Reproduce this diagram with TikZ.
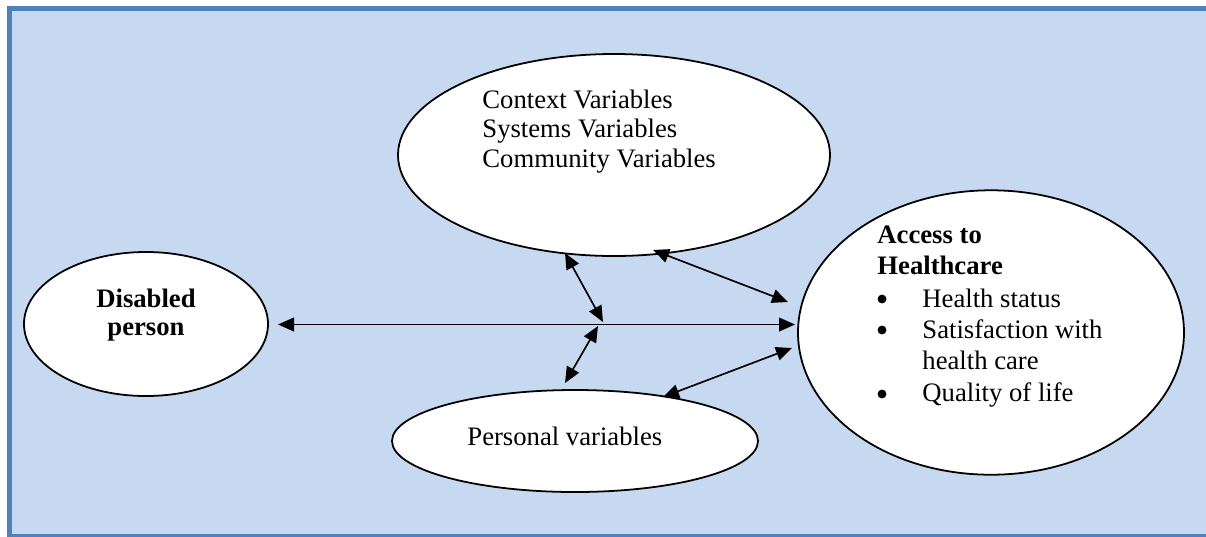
\documentclass[tikz,border=0pt]{standalone}
\usepackage{fontspec}
\setmainfont{Liberation Serif}
\usetikzlibrary{shapes.geometric,arrows.meta}
\definecolor{frameblue}{RGB}{79,129,189}
\definecolor{panelfill}{RGB}{198,217,241}
\begin{document}
\begin{tikzpicture}[x=0.45pt,y=-0.45pt,
  bubble/.style={ellipse,draw=black,fill=white,line width=0.8pt,inner sep=0pt},
  txt/.style={anchor=base west,inner sep=0pt,font=\fontsize{12}{13.5}\selectfont},
  btxt/.style={txt,font=\fontsize{12}{13.5}\selectfont\bfseries},
  ctxt/.style={anchor=base,inner sep=0pt,font=\fontsize{12}{13.5}\selectfont\bfseries},
  dot/.style={circle,fill=black,inner sep=0pt,minimum size=4pt},
  link/.style={line width=0.75pt,{Triangle[length=7.2pt,width=6.2pt]}-{Triangle[length=7.2pt,width=6.2pt]}}]
\useasboundingbox (0,0) rectangle (1206,536);
% panel with its frame on top, left and bottom
\fill[panelfill] (9.5,8.5) rectangle (1206,536);
\draw[line width=2.3pt,draw=frameblue,line cap=butt] (1206,8.5) -- (9.5,8.5) -- (9.5,536.5) -- (1206,536.5);

% ellipses
\node[bubble,minimum width=109.8pt,minimum height=64.8pt] (person) at (146,324) {};
\node[bubble,minimum width=194.4pt,minimum height=90.9pt] (context) at (614,155) {};
\node[bubble,minimum width=164.7pt,minimum height=45.9pt] (personal) at (575,441) {};
\node[bubble,minimum width=173.7pt,minimum height=128pt] (access) at (991,332.5) {};

% labels
\node[ctxt] (dis1) at (146,307) {Disabled};
\node[ctxt] (dis2) at (146,335) {person};

\node[txt] (ctx1) at (482,108) {Context Variables};
\node[txt] (ctx2) at (482,137.5) {Systems Variables};
\node[txt] (ctx3) at (482,167) {Community Variables};

\node[txt] (pers) at (467,445) {Personal variables};

\node[btxt] (acc1) at (877,243) {Access to};
\node[btxt] (acc2) at (877,274) {Healthcare};
\node[dot] (b1) at (882,299) {};
\node[txt] (i1) at (922,307) {Health status};
\node[dot] (b2) at (882,330) {};
\node[txt] (i2) at (922,338) {Satisfaction with};
\node[txt] (i2b) at (922,369) {health care};
\node[dot] (b3) at (882,394) {};
\node[txt] (i3) at (922,401) {Quality of life};

% arrow end points
\coordinate (hL) at (278,324.5);
\coordinate (hR) at (795,324.5);
\coordinate (ulA) at (565,253);
\coordinate (ulB) at (603,322);
\coordinate (llA) at (598,326);
\coordinate (llB) at (565,383);
\coordinate (urA) at (653,250);
\coordinate (urB) at (788,302);
\coordinate (lrA) at (663,397);
\coordinate (lrB) at (792,348);

% connectors
\draw[link] (hL) -- (hR);
\draw[link] (ulA) -- (ulB);
\draw[link] (llA) -- (llB);
\draw[link] (urA) -- (urB);
\draw[link] (lrA) -- (lrB);
\end{tikzpicture}
\end{document}
